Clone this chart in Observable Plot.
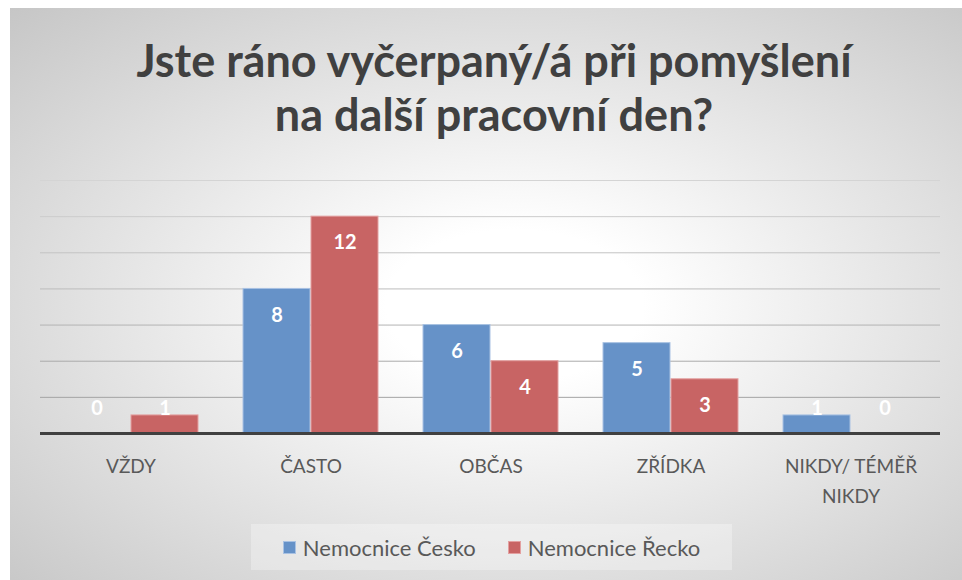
<!DOCTYPE html>
<html>
<head>
<meta charset="utf-8">
<script src="https://cdn.jsdelivr.net/npm/d3@7"></script>
<script src="https://cdn.jsdelivr.net/npm/@observablehq/plot@0.6"></script>
<style>
  body { margin: 0; background: #ffffff; }
  #chart {
    position: absolute; left: 10px; top: 8px; width: 952px; height: 572px;
    background: radial-gradient(farthest-corner at 53% 52%, #ffffff 18%, #c6c6c6 100%);
    overflow: hidden; font-family: Lato, "Open Sans", sans-serif;
  }
  #title {
    position: absolute; left: 8px; top: 25px; width: 952px; text-align: center;
    font-size: 45px; line-height: 54px; font-weight: bold; color: #404040;
  }
  #plot { position: absolute; left: 0; top: 0; }
  #legend {
    position: absolute; left: 241px; top: 516px; width: 481px; height: 46px;
    background: rgba(255,255,255,0.3);
    display: flex; align-items: center; justify-content: center; gap: 32px;
    font-size: 22px; color: #595959;
  }
  #legend span { display: inline-flex; align-items: center; }
  #legend i { display: inline-block; width: 13px; height: 13px; margin-right: 7px; box-sizing: border-box; }
</style>
</head>
<body>
<div id="chart">
  <div id="plot"></div>
  <div id="title">Jste ráno vyčerpaný/á při pomyšlení<br>na další pracovní den?</div>
  <div id="legend"></div>
</div>
<script>
const categories = ["VŽDY", "ČASTO", "OBČAS", "ZŘÍDKA", "NIKDY/ TÉMĚŘ NIKDY"];
const series = ["Nemocnice Česko", "Nemocnice Řecko"];
const cesko = [0, 8, 6, 5, 1];
const recko = [1, 12, 4, 3, 0];
const yTicks = [0, 2, 4, 6, 8, 10, 12, 14];
const colors = ["#6692c8", "#c86464"];
const borders = ["#a9c2e3", "#e3a0a0"];

const dataCz = categories.map((c, i) => ({cat: c, series: series[0], value: cesko[i]}));
const dataGr = categories.map((c, i) => ({cat: c, series: series[1], value: recko[i]}));

const gridColor = d3.scaleLinear().domain([2, 14]).range(["#a3a3a3", "#d4d4d4"]);
const labelY = d => Math.max(d.value - 1.45, 1.4);

const chart = Plot.plot({
  width: 952,
  height: 520,
  marginLeft: 30,
  marginRight: 22,
  marginTop: 172,
  marginBottom: 95,
  style: {background: "transparent", overflow: "visible", fontFamily: "Lato, 'Open Sans', sans-serif"},
  x: {domain: categories, paddingInner: 0.25, paddingOuter: 0.125},
  y: {domain: [0, 14], axis: null},
  marks: [
    Plot.ruleY(yTicks.filter(t => t > 0), {stroke: t => gridColor(t), strokeWidth: 1}),
    Plot.barY(dataCz, {x: "cat", y: "value", fill: colors[0], stroke: borders[0], strokeWidth: 1, insetRight: 68}),
    Plot.barY(dataGr, {x: "cat", y: "value", fill: colors[1], stroke: borders[1], strokeWidth: 1, insetLeft: 68}),
    Plot.ruleY([0], {stroke: "#404040", strokeWidth: 3}),
    Plot.text(dataCz, {x: "cat", y: labelY, dx: -34, text: d => String(d.value), fill: "white", fontWeight: "bold", fontSize: 20}),
    Plot.text(dataGr, {x: "cat", y: labelY, dx: 34, text: d => String(d.value), fill: "white", fontWeight: "bold", fontSize: 20}),
    Plot.axisX({tickSize: 0, tickPadding: 19, fontSize: 19, fill: "#595959", lineWidth: 8, lineHeight: 1.55, label: null})
  ]
});
document.getElementById("plot").appendChild(chart);

const legend = document.getElementById("legend");
series.forEach((s, i) => {
  const span = document.createElement("span");
  const sw = document.createElement("i");
  sw.style.background = colors[i];
  sw.style.border = "1px solid " + borders[i];
  span.appendChild(sw);
  span.appendChild(document.createTextNode(s));
  legend.appendChild(span);
});
</script>
</body>
</html>
